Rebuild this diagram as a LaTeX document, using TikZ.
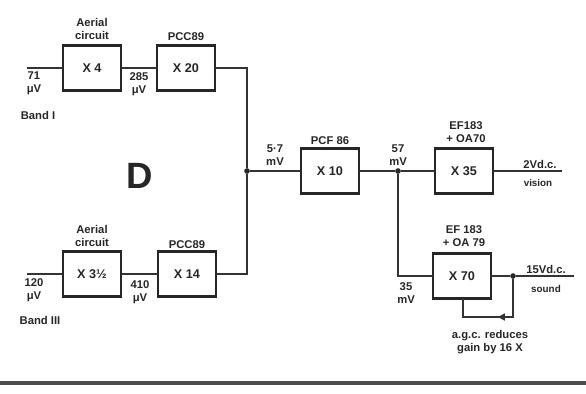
\documentclass[tikz,border=0pt]{standalone}
\usepackage{fontspec}
\setmainfont{Liberation Sans}
\usetikzlibrary{arrows.meta,decorations.markings}

\begin{document}
\begin{tikzpicture}[x=0.025cm,y=-0.025cm,
  every node/.style={outer sep=0pt, inner sep=1pt, align=center, font=\bfseries\footnotesize, text=black!85},
  stage/.style={draw=black!85, line width=1.6pt, minimum width=1.45cm, minimum height=1.12cm, font=\bfseries\small},
  wire/.style={draw=black!80, line width=1pt},
  tag/.style={font=\bfseries\scriptsize, inner sep=0pt},
  junc/.style={circle, fill=black!85, inner sep=0pt, minimum size=4pt}]
\useasboundingbox (0,0) rectangle (586,394);
\node[stage] (aeI) at (92,68) {X 4};
\node[stage] (pccI) at (186,68) {X 20};
\node[stage] (aeIII) at (92,274) {X 3½};
\node[stage] (pccIII) at (187,274) {X 14};
\node[stage] (pcf) at (330,171) {X 10};
\node[stage] (vis) at (464,171) {X 35};
\node[stage] (snd) at (462,276) {X 70};
\coordinate (inI) at (27,68);
\coordinate (inIII) at (27,274);
\coordinate (cI) at (247,68);
\coordinate (cIII) at (247,274);
\node[junc] (jn) at (247,171) {};
\node[junc] (d57) at (398,171) {};
\coordinate (c35) at (398,276);
\coordinate (outVis) at (562,171);
\node[junc] (dSnd) at (513,276) {};
\coordinate (outSnd) at (574,276);
\coordinate (lpR) at (513,317);
\coordinate (lpL) at (463,317);
\draw[wire] (inI) -- (aeI) -- (pccI) -- (cI) -- (jn) -- (pcf);
\draw[wire] (inIII) -- (aeIII) -- (pccIII) -- (cIII) -- (jn);
\draw[wire] (pcf) -- (d57) -- (vis) -- (outVis);
\draw[wire] (d57) -- (c35) -- (snd) -- (dSnd) -- (outSnd);
\draw[wire, decoration={markings, mark=at position 0.5 with {\arrow{Triangle[length=5pt,width=5pt]}}}, postaction={decorate}] (dSnd) -- (lpR) -- (lpL) -- (snd.south -| lpL);
\node (lbAeI) at (92,29) {Aerial\\circuit};
\node (lbPccI) at (186,37) {PCC89};
\node (lbInI) at (34,83) {71\\μV};
\node (lb285) at (139,84) {285\\μV};
\node (bandI) at (38,115) {Band I};
\node (lbAeIII) at (92,236) {Aerial\\circuit};
\node (lbPccIII) at (187,245) {PCC89};
\node (lbInIII) at (34,290) {120\\μV};
\node (lb410) at (140,292) {410\\μV};
\node (bandIII) at (40,320) {Band III};
\node (lb57a) at (275,155) {5·7\\mV};
\node (lbPcf) at (330,141) {PCF 86};
\node (lb57b) at (398,155) {57\\mV};
\node (lbVis) at (466,132) {EF183\\+ OA70};
\node[anchor=south] (vdcVis) at (540,170) {2Vd.c.};
\node[tag] (lbVision) at (538,183) {vision};
\node (lbSnd) at (464,236) {EF 183\\+ OA 79};
\node (lb35) at (406,293) {35\\mV};
\node[anchor=south] (vdcSnd) at (546,275) {15Vd.c.};
\node[tag] (lbSound) at (546,289) {sound};
\node (lbAgc) at (490,342) {a.g.c. reduces\\gain by 16 X};
\node[font=\bfseries\fontsize{26}{28}\selectfont] (bigD) at (140,176) {D};
\draw[draw=black!70, line width=2.2pt] (0,383) -- (586,383);
\end{tikzpicture}
\end{document}
